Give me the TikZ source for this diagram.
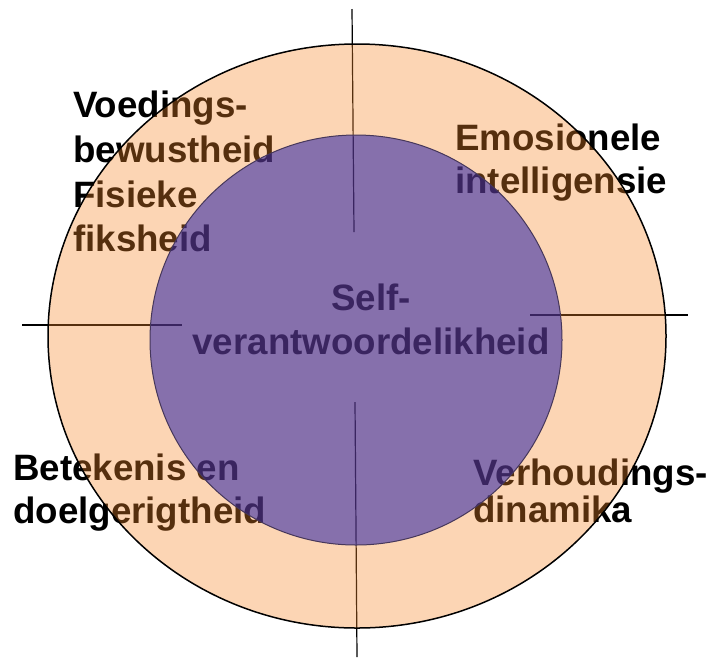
\documentclass[tikz,border=0pt]{standalone}
\usepackage{fontspec}
\setmainfont{Liberation Sans}
\definecolor{peachtint}{RGB}{246,135,41}
\definecolor{purpletint}{RGB}{37,29,165}
\definecolor{innerline}{RGB}{70,55,90}
\begin{document}
\begin{tikzpicture}[x=1pt,y=-1pt,
  lbl/.style={font=\fontsize{36.7}{44}\selectfont\bfseries, inner sep=0pt, anchor=base west, text=black},
  ctr/.style={lbl, anchor=base},
  cross/.style={line width=1.2pt, black},
  outerfill/.style={fill=peachtint, fill opacity=0.35},
  innerfill/.style={fill=purpletint, fill opacity=0.55},
  outerline/.style={draw=black, line width=1.5pt},
  innerline/.style={draw=innerline, line width=1pt}]
\useasboundingbox (0,0) rectangle (711,657);

% cross lines (under the tinted discs)
\coordinate (t1) at (352,9);   \coordinate (t2) at (354,232);
\coordinate (b1) at (355,402); \coordinate (b2) at (357,657);
\coordinate (l1) at (22,325);  \coordinate (l2) at (182,325);
\coordinate (r1) at (530,315); \coordinate (r2) at (688,315);
\draw[cross] (t1) -- (t2);
\draw[cross] (b1) -- (b2);
\draw[cross] (l1) -- (l2);
\draw[cross] (r1) -- (r2);

% labels
\node[lbl] (v1) at (73,117) {Voedings-};
\node[lbl] (v2) at (73,162) {bewustheid};
\node[lbl] (v3) at (73,207) {Fisieke};
\node[lbl] (v4) at (73,251) {fiksheid};
\node[lbl] (e1) at (455,150) {Emosionele};
\node[lbl] (e2) at (455,193) {intelligensie};
\node[lbl] (b1t) at (13,480) {Betekenis en};
\node[lbl] (b2t) at (13,523) {doelgerigtheid};
\node[lbl] (h1) at (473,485) {Verhoudings-};
\node[lbl] (h2) at (473,522) {dinamika};
\node[ctr] (s1) at (371,310) {Self-};
\node[ctr] (s2) at (371,354) {verantwoordelikheid};

% tinted discs
\coordinate (oc) at (357,336);
\coordinate (ic) at (356,340);
\fill[outerfill] (oc) ellipse [x radius=309, y radius=292];
\fill[innerfill] (ic) ellipse [x radius=206, y radius=205];
\draw[innerline] (ic) ellipse [x radius=206, y radius=205];
\draw[outerline] (oc) ellipse [x radius=309, y radius=292];
\end{tikzpicture}
\end{document}
